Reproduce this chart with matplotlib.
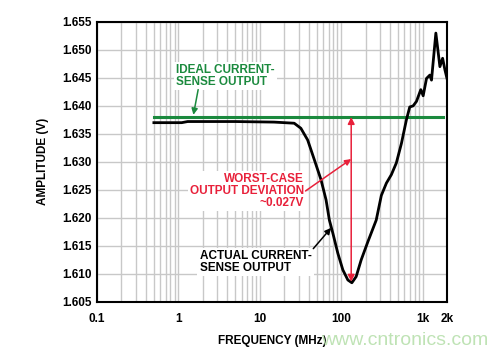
import numpy as np
import matplotlib
matplotlib.use("Agg")
import matplotlib.pyplot as plt

plt.rcParams['font.family'] = ['Liberation Sans', 'DejaVu Sans']
plt.rcParams['font.weight'] = 'bold'

# actual current-sense output
freq_mhz = [0.5, 1.1, 1.3, 5, 15, 26.5, 32, 38.8, 46.8, 56.6, 65.3, 71.7, 79, 91,
            105, 121, 135.5, 153, 176.5, 214, 270, 312, 360, 414, 477, 551, 634,
            697, 767, 843, 953, 1019, 1120, 1231, 1290, 1459, 1636, 1767, 1888, 2000]
amp_v = [1.6370, 1.6370, 1.6372, 1.6372, 1.6371, 1.6369, 1.6360, 1.6339, 1.6304,
         1.6268, 1.6232, 1.6196, 1.6173, 1.6137, 1.6107, 1.6089, 1.6084, 1.6095,
         1.6125, 1.6158, 1.6196, 1.6240, 1.6262, 1.6277, 1.6298, 1.6333, 1.6375,
         1.6398, 1.6400, 1.6408, 1.6429, 1.6418, 1.6449, 1.6455, 1.6446, 1.6530,
         1.6470, 1.6485, 1.6464, 1.6449]

# ideal output
ideal_freq = [0.5, 1800]
ideal_amp = [1.638, 1.638]

worst_freq = 133
worst_min = 1.6086

yticks = [1.605, 1.610, 1.615, 1.620, 1.625, 1.630, 1.635, 1.640, 1.645, 1.650, 1.655]
xticks = [0.1, 1, 10, 100, 1000, 2000]
xticklabels = ['0.1', '1', '10', '100', '1k', '2k']

fig = plt.figure(figsize=(5.0, 3.53), dpi=100)
ax = fig.add_axes([0.194, 0.145, 0.7, 0.793])

ax.set_xscale('log')
ax.set_xlim(0.1, 2000)
ax.set_ylim(1.605, 1.655)
ax.set_yticks(yticks)
ax.set_yticklabels(['%.3f' % v for v in yticks])
ax.set_xticks(xticks)
ax.set_xticklabels(xticklabels)
ax.yaxis.set_minor_locator(matplotlib.ticker.NullLocator())
ax.xaxis.set_minor_locator(matplotlib.ticker.LogLocator(base=10, subs=np.arange(2, 10)))
ax.xaxis.set_minor_formatter(matplotlib.ticker.NullFormatter())
ax.tick_params(which='both', length=0, labelsize=8.5)
ax.tick_params(axis='x', pad=8)
ax.tick_params(axis='y', pad=4)
ax.grid(True, which='both', color='#c8c8c8', lw=1.0)
ax.set_axisbelow(True)
for s in ax.spines.values():
    s.set_linewidth(1.5)

green = '#1b8a3e'
red = '#e8203a'

ax.plot(ideal_freq, ideal_amp, color=green, lw=2.2, zorder=3)
ax.plot(freq_mhz, amp_v, color='black', lw=2.0, zorder=4)

ax.annotate('', xy=(worst_freq, worst_min), xytext=(worst_freq, ideal_amp[0]),
            arrowprops=dict(arrowstyle='<|-|>', color=red, lw=1.1,
                            mutation_scale=10, shrinkA=0, shrinkB=0), zorder=5)

bbox = dict(facecolor='white', edgecolor='none', pad=1.5)
ax.text(0.94, 1.6454, 'IDEAL CURRENT-\nSENSE OUTPUT', color=green, fontsize=8.5,
        fontweight='bold', ha='left', va='center', linespacing=1.0, bbox=bbox, zorder=6)
ax.annotate('', xy=(1.53, 1.6384), xytext=(1.75, 1.6429),
            arrowprops=dict(arrowstyle='-|>', color=green, lw=1.1,
                            mutation_scale=9, shrinkA=0, shrinkB=0), zorder=6)

ax.text(35, 1.6248, 'WORST-CASE\nOUTPUT DEVIATION\n~0.027V', color=red, fontsize=8.5,
        fontweight='bold', ha='right', va='center', multialignment='right',
        linespacing=1.0, bbox=bbox, zorder=6)
ax.annotate('', xy=(worst_freq, 1.6305), xytext=(36.5, 1.6248),
            arrowprops=dict(arrowstyle='-|>', color=red, lw=1.1,
                            mutation_scale=9, shrinkA=0, shrinkB=0), zorder=6)

ax.text(1.82, 1.6121, 'ACTUAL CURRENT-\nSENSE OUTPUT', color='black', fontsize=8.5,
        fontweight='bold', ha='left', va='center', linespacing=1.0, bbox=bbox, zorder=6)
ax.annotate('', xy=(75.3, 1.6182), xytext=(45.5, 1.6145),
            arrowprops=dict(arrowstyle='-|>', color='black', lw=1.1,
                            mutation_scale=9, shrinkA=0, shrinkB=0), zorder=6)

ax.set_xlabel('FREQUENCY (MHz)', fontsize=8.5, fontweight='bold', labelpad=7)
ax.set_ylabel('AMPLITUDE (V)', fontsize=8.5, fontweight='bold', labelpad=9)

fig.text(0.81, 0.035, 'www.cntronics.com', color='#bfe3b5', fontsize=14,
         fontweight='normal', ha='center', va='center')

fig.savefig('out.png', dpi=100)
